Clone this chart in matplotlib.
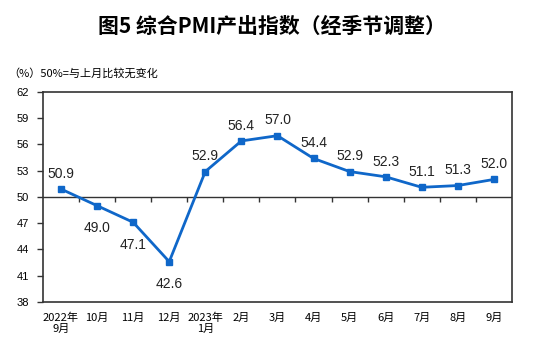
import matplotlib
matplotlib.use("Agg")
import matplotlib.pyplot as plt

plt.rcParams["font.family"] = ["Noto Sans CJK SC", "DejaVu Sans"]

# ── Data ──────────────────────────────────────────────────────────────────────
MONTHS = ["2022年\n9月", "10月", "11月", "12月", "2023年\n1月", "2月", "3月",
          "4月", "5月", "6月", "7月", "8月", "9月"]
PMI    = [50.9, 49.0, 47.1, 42.6, 52.9, 56.4, 57.0, 54.4, 52.9, 52.3, 51.1, 51.3, 52.0]
YTICKS = [38, 41, 44, 47, 50, 53, 56, 59, 62]
LABEL_BELOW = [False, True, True, True, False, False, False, False, False, False,
               False, False, False]

LINE_COLOR = "#0f67c9"

fig = plt.figure(figsize=(5.44, 3.47), dpi=100)
ax = fig.add_axes([0.079, 0.130, 0.862, 0.605])

x = list(range(len(PMI)))
ax.plot(x, PMI, color=LINE_COLOR, linewidth=2, marker="s", markersize=4.5,
        zorder=3)

for xi, v, below in zip(x, PMI, LABEL_BELOW):
    dy = -16 if below else 11
    ax.annotate(f"{v:.1f}", (xi, v), xytext=(0, dy), textcoords="offset points",
                ha="center", va="center", fontsize=10,
                family=["Liberation Sans", "DejaVu Sans"], color="#222222")

# baseline at 50 with ticks at category boundaries
ax.axhline(50, color="#333333", linewidth=1, zorder=2)
ax.vlines([i + 0.5 for i in x[:-1]], 49.4, 50, color="#333333", linewidth=1,
          zorder=2)

ax.set_xlim(-0.5, len(PMI) - 0.5)
ax.set_ylim(38, 62)
ax.set_yticks(YTICKS)
ax.set_yticklabels([str(t) for t in YTICKS], fontsize=8,
                   family=["Liberation Sans", "DejaVu Sans"])
ax.set_xticks(x)
ax.set_xticklabels(MONTHS, fontsize=8, linespacing=1.1)
ax.tick_params(axis="x", length=0, pad=8)
ax.tick_params(axis="y", length=4, direction="out", width=1, color="#333333",
               pad=6)
for s in ax.spines.values():
    s.set_color("#333333")
    s.set_linewidth(1.2)

fig.text(0.5, 0.925, "图5 综合PMI产出指数（经季节调整）", ha="center",
         va="center", fontsize=15, fontweight="bold")
fig.text(0.015, 0.79, "（%）50%=与上月比较无变化", ha="left", va="center",
         fontsize=8)

fig.savefig("out.png", dpi=100)
